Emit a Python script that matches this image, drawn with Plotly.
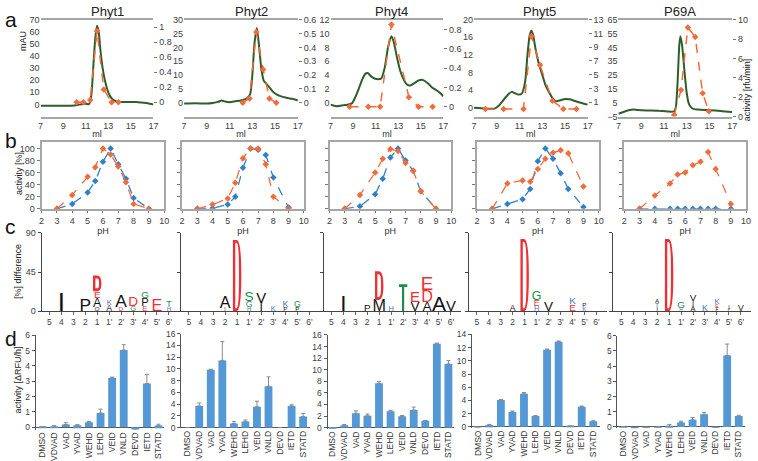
import plotly.graph_objects as go

W, H = 758, 461
FONT = "Arial, Liberation Sans, sans-serif"
LOGO_FONT = "Liberation Sans Narrow, Arial Narrow, Liberation Sans, sans-serif"

panel_names = ["Phyt1", "Phyt2", "Phyt4", "Phyt5", "P69A"]

# ---- a: gel filtration, absorbance (mAU) and activity of the fractions
phyt1_abs_ml = [7, 8, 9, 10, 10.5, 11, 11.3, 11.5, 11.7, 11.85, 12.0, 12.15, 12.3, 12.5, 12.7, 13.0, 13.3, 13.6, 14.0, 14.5, 15.0, 15.5, 16.0, 16.5, 17]
phyt1_abs_mau = [-1, -1, -1, -0.8, 0, 0.5, 0.3, 8, 35, 55, 65, 60, 45, 30, 20, 10, 5, 3, 2, 2, 2, 2, 1.5, 1, 0]
phyt1_frac_ml = [10.2, 10.8, 11.4, 12.0, 12.6, 13.3, 13.9]
phyt1_frac_act = [0, 0, 0.03, 0.95, 0.17, 0, 0]

phyt2_abs_ml = [7, 8, 9, 9.5, 10, 10.3, 10.6, 11, 11.5, 12, 12.5, 12.8, 13.0, 13.2, 13.4, 13.6, 13.8, 14.0, 14.2, 14.5, 14.8, 15.2, 15.6, 16, 16.5, 17]
phyt2_abs_mau = [-0.3, -0.2, -0.3, -0.1, 0.3, 0.8, 0.4, 0.2, 0.5, 0.8, 1.5, 3, 10, 22, 27, 20, 12, 8, 7, 5.5, 4, 2.8, 2.2, 1.8, 1.4, 0.8]
phyt2_frac_ml = [12.15, 12.75, 13.35, 13.95, 14.5, 15.1]
phyt2_frac_act = [0, 0.03, 0.51, 0.24, 0.03, 0]

phyt4_abs_ml = [7, 7.5, 8, 8.5, 8.9, 9.2, 9.5, 9.8, 10.1, 10.3, 10.6, 10.9, 11.2, 11.5, 11.8, 12.1, 12.4, 12.6, 12.9, 13.2, 13.5, 13.8, 14.1, 14.4, 14.8, 15.1, 15.4, 15.7, 16.0, 16.4, 16.8, 17]
phyt4_abs_mau = [-0.3, -0.5, -0.4, -0.3, -0.1, 0.8, 2, 3.3, 4.2, 4.3, 3.8, 3.5, 3.4, 3.5, 5, 8, 9.6, 8.8, 6.5, 4.5, 3.3, 2.6, 2.5, 2.8, 3.2, 3.3, 3.1, 2.7, 2.2, 1.8, 1.3, 0.9]
phyt4_frac_ml = [8.7, 10.35, 11.4, 12.4, 13.95, 14.8, 16.05]
phyt4_frac_act = [0, 0, 0, 0.85, 0.1, 0, 0]

phyt5_abs_ml = [7, 8, 8.8, 9.2, 9.6, 10.0, 10.3, 10.6, 10.9, 11.2, 11.5, 11.7, 11.9, 12.05, 12.2, 12.4, 12.7, 13.0, 13.3, 13.6, 13.9, 14.2, 14.6, 15.0, 15.4, 15.8, 16.3, 17]
phyt5_abs_mau = [0, -0.2, -0.2, 0.5, 1.8, 3, 3.6, 3.3, 3, 3.2, 6, 12, 16.5, 17.5, 16.5, 13.5, 10, 7.5, 5, 3.5, 2.2, 1.5, 1.7, 2, 1.9, 1.6, 1.2, 0.7]
phyt5_frac_ml = [8.0, 9.6, 11.35, 12.05, 12.8, 13.9, 14.85, 16.0]
phyt5_frac_act = [0, 0, 0, 10.6, 6.4, 1.2, 0, 0]

p69a_abs_ml = [7, 7.5, 8.0, 8.3, 8.7, 9.5, 10.5, 11.3, 11.9, 12.05, 12.2, 12.35, 12.45, 12.6, 12.8, 13.0, 13.2, 13.5, 14, 15, 16, 17]
p69a_abs_mau = [-3, -1.5, -0.3, 0, -0.3, -0.6, -0.8, -1.4, -1.3, 2, 20, 47, 53, 46, 28, 12, 4, 0.8, 0, -0.4, -1, -1.8]
p69a_frac_ml = [11.9, 12.5, 13.1, 13.75, 14.4, 14.95]
p69a_frac_act = [0.15, 2.75, 9.2, 8.2, 2.4, 0.55]

a_left_ticks = [list(range(0, 71, 10)), list(range(0, 31, 5)), list(range(0, 13, 2)),
                list(range(0, 21, 4)), list(range(-5, 66, 10))]
a_right_ticks = [[0, 0.2, 0.4, 0.6, 0.8, 1], [0, 0.1, 0.2, 0.3, 0.4, 0.5, 0.6],
                 [0, 0.2, 0.4, 0.6, 0.8], [1, 3, 5, 7, 9, 11, 13], [0, 2, 4, 6, 8, 10]]

# ---- b: pH profiles
ph_values = [3, 4, 5, 5.5, 6, 6.5, 7, 7.5, 8, 9]
phyt1_ph_orange = [0, 23, 53, 69, 100, 90, 70, 44, 8, 0]
phyt1_ph_blue = [0, 8, 27, 46, 78, 100, 74, 50, 18, 0]
phyt2_ph_orange = [0, 7, 17, 43, 84, 100, 100, 74, 20, 0]
phyt2_ph_blue = [0, 1, 7, 20, 68, 100, 98, 89, 52, 2]
phyt4_ph_orange = [0, 23, 60, 83, 99, 96, 76, 63, 29, 0]
phyt4_ph_blue = [0, 4, 24, 50, 85, 100, 80, 63, 29, 0]
phyt5_ph_orange = [0, 42, 47, 45, 66, 83, 93, 97, 92, 37]
phyt5_ph_blue = [0, 8, 16, 33, 79, 100, 83, 59, 33, 3]
p69a_ph_orange = [0, 22, 42, 57, 60, 72, 78, 94, 66, 8]
p69a_ph_blue = [0, 0, 0, 0, 0, 0, 0, 0, 0, 0]

# ---- c: sequence logos (position, letter, height in %), stacked bottom to top
logo_positions = ["5", "4", "3", "2", "1", "1'", "2'", "3'", "4'", "5'", "6'"]
logo_phyt1 = [("4", "I", 21), ("2", "P", 14),
              ("1", "Q", 5), ("1", "A", 10), ("1", "E", 8), ("1", "D", 18),
              ("1'", "A", 7), ("1'", "K", 6), ("2'", "D", 5), ("2'", "A", 14),
              ("3'", "G", 6), ("3'", "D", 11), ("4'", "E", 6), ("4'", "P", 9), ("4'", "G", 8),
              ("5'", "E", 13), ("6'", "H", 5), ("6'", "T", 7)]
logo_phyt2 = [("2", "I", 4), ("2", "A", 13), ("1", "D", 82),
              ("1'", "H", 5), ("1'", "G", 7), ("1'", "S", 11),
              ("2'", "I", 10), ("2'", "V", 12), ("3'", "K", 6),
              ("4'", "P", 5), ("4'", "K", 7), ("5'", "P", 5), ("5'", "G", 7)]
logo_phyt4 = [("4", "I", 18), ("2", "P", 8), ("1", "M", 13), ("1", "D", 33),
              ("1'", "H", 6), ("2'", "T", 31), ("3'", "V", 11), ("3'", "E", 12),
              ("4'", "A", 11), ("4'", "D", 13), ("4'", "E", 15), ("5'", "A", 17), ("6'", "V", 12)]
logo_phyt5 = [("2", "A", 7), ("1", "D", 83), ("1'", "H", 6), ("1'", "E", 7), ("1'", "G", 10),
              ("2'", "V", 11), ("4'", "E", 8), ("4'", "K", 8), ("5'", "K", 5), ("5'", "P", 5)]
logo_p69a = [("2", "I", 5), ("2", "T", 5), ("2", "A", 5), ("1", "D", 83),
             ("1'", "H", 4), ("1'", "G", 8), ("2'", "A", 6), ("2'", "I", 6), ("2'", "V", 8),
             ("3'", "K", 7), ("4'", "F", 4), ("4'", "E", 4), ("4'", "K", 6),
             ("5'", "P", 3), ("5'", "I", 4), ("6'", "V", 7)]

# ---- d: substrate activity
substrates = ["DMSO", "VDVAD", "VAD", "YVAD", "WEHD", "LEHD", "VEID", "VNLD", "DEVD", "IETD", "STATD"]
phyt1_act = [0.02, 0.03, 0.18, 0.13, 0.32, 0.93, 3.22, 5.03, -0.2, 2.85, 0.12]
phyt1_err = [0.02, 0.08, 0.12, 0.04, 0.06, 0.25, 0.05, 0.35, 0.05, 0.6, 0.08]
phyt2_act = [0, 3.7, 9.85, 11.45, 0.7, 1.05, 3.55, 7.05, 0, 3.7, 1.9]
phyt2_err = [0, 0.5, 0.1, 3.2, 0.35, 0.25, 0.95, 1.6, 0, 0.2, 0.5]
phyt4_act = [-0.3, 0.4, 2.5, 2.05, 7.65, 2.85, 1.95, 3.05, 1.18, 14.5, 11.0]
phyt4_err = [0.1, 0.15, 0.4, 0.3, 0.35, 0.15, 0.15, 0.5, 0.05, 0.1, 0.6]
phyt5_act = [-0.05, 0.27, 4.08, 2.25, 5.0, 1.63, 11.7, 12.9, 0.1, 3.05, 0.84]
phyt5_err = [0.02, 0.1, 0.05, 0.15, 0.2, 0.08, 0.1, 0.12, 0.05, 0.1, 0.08]
p69a_act = [0.02, -0.06, -0.02, 0.01, 0.05, 0.3, 0.48, 0.83, -0.02, 4.7, 0.72]
p69a_err = [0.01, 0.02, 0.01, 0.01, 0.12, 0.08, 0.14, 0.12, 0.01, 0.75, 0.05]

ORANGE = "#f26b3a"
BLUE = "#2f80c8"
GREEN = "#2f5e2a"
BAR = "#5499d6"
RED_L, GREEN_L, BLUE_L = "#ee2f33", "#1a8f47", "#4b70c8"
letter_color = {"D": RED_L, "E": RED_L, "G": GREEN_L, "S": GREEN_L, "T": GREEN_L, "K": BLUE_L, "H": BLUE_L}

tick_font = dict(family=FONT, size=9, color="#404040")

fig = go.Figure()
layout = {}
shapes = []
annotations = []
counter = {"x": 0, "y": 0}


def new_axis(kind):
    counter[kind] += 1
    k = counter[kind]
    suffix = "" if k == 1 else str(k)
    return kind + suffix, kind + "axis" + suffix


def xd(a, b):
    return [a / W, b / W]


def yd(top, bot):
    return [1 - bot / H, 1 - top / H]


def label(text, x, y, size=9, angle=0):
    annotations.append(dict(text=text, x=x / W, y=1 - y / H, xref="paper", yref="paper",
                            xanchor="center", yanchor="middle", showarrow=False, textangle=angle,
                            font=dict(family=FONT, size=size, color="#222")))


# ---------------- row a
a_x = [(38, 152), (183, 298), (331, 445), (476, 591), (622, 737)]
a_y = (15, 114)
a_left_range = [[-10, 70], [-5, 30], [-2, 12], [-2, 20], [-5, 65]]
a_right_range = [[-0.19, 1.1], [-0.1, 0.6], [-0.1, 0.9], [-1.1, 13], [0, 10]]
abs_ml = [phyt1_abs_ml, phyt2_abs_ml, phyt4_abs_ml, phyt5_abs_ml, p69a_abs_ml]
abs_mau = [phyt1_abs_mau, phyt2_abs_mau, phyt4_abs_mau, phyt5_abs_mau, p69a_abs_mau]
frac_ml = [phyt1_frac_ml, phyt2_frac_ml, phyt4_frac_ml, phyt5_frac_ml, p69a_frac_ml]
frac_act = [phyt1_frac_act, phyt2_frac_act, phyt4_frac_act, phyt5_frac_act, p69a_frac_act]

for i in range(5):
    xr, xn = new_axis("x")
    yr, yn = new_axis("y")
    y2r, y2n = new_axis("y")
    layout[xn] = dict(domain=xd(*a_x[i]), range=[7, 17], tickvals=[7, 9, 11, 13, 15, 17], anchor=yr,
                      showline=True, mirror=True, linecolor="#a6a6a6", linewidth=2, showgrid=False,
                      zeroline=False, ticks="", tickfont=tick_font,
                      title=dict(text="ml", font=dict(family=FONT, size=9, color="#333"), standoff=0))
    layout[yn] = dict(domain=yd(*a_y), range=a_left_range[i], tickvals=a_left_ticks[i], anchor=xr,
                      showgrid=False, zeroline=False, showline=False, ticks="", tickfont=tick_font)
    layout[y2n] = dict(domain=yd(*a_y), range=a_right_range[i], tickvals=a_right_ticks[i], anchor=xr,
                       overlaying=yr, side="right", showgrid=False, zeroline=False, showline=False,
                       ticks="outside", ticklen=3, tickcolor="#777", tickfont=tick_font)
    fig.add_trace(go.Scatter(x=frac_ml[i], y=frac_act[i], xaxis=xr, yaxis=y2r, mode="lines+markers",
                             line=dict(color=ORANGE, width=1.5, dash="dash"),
                             marker=dict(symbol="diamond", size=5, color=ORANGE), showlegend=False))
    fig.add_trace(go.Scatter(x=abs_ml[i], y=abs_mau[i], xaxis=xr, yaxis=yr, mode="lines",
                             line=dict(color=GREEN, width=2, shape="spline", smoothing=0.6),
                             showlegend=False))

title_x = [106, 251, 393, 542, 684]
for i, name in enumerate(panel_names):
    label(name, title_x[i], 7, size=13)
label("mAU", 20, 37, angle=-90)
label("activity [rfu/min]", 752, 87, angle=-90)

# ---------------- row b
b_x = [(39, 163), (181, 304), (330, 453), (479, 602), (628, 751)]
b_y = (140.5, 208.3)
ph_orange = [phyt1_ph_orange, phyt2_ph_orange, phyt4_ph_orange, phyt5_ph_orange, p69a_ph_orange]
ph_blue = [phyt1_ph_blue, phyt2_ph_blue, phyt4_ph_blue, phyt5_ph_blue, p69a_ph_blue]
for i in range(5):
    xr, xn = new_axis("x")
    yr, yn = new_axis("y")
    layout[xn] = dict(domain=xd(*b_x[i]), range=[2, 10], dtick=1, anchor=yr, showline=True, mirror=True,
                      linecolor="#a6a6a6", linewidth=2, showgrid=False, zeroline=False, ticks="outside",
                      ticklen=2, tickcolor="#777", tickfont=tick_font,
                      title=dict(text="pH", font=dict(family=FONT, size=9, color="#333"), standoff=0))
    layout[yn] = dict(domain=yd(*b_y), range=[0, 110], tickvals=[0, 20, 40, 60, 80, 100], anchor=xr,
                      showline=True, mirror=True, linecolor="#a6a6a6", linewidth=2, showgrid=False,
                      zeroline=False, ticks="outside", ticklen=3, tickcolor="#777",
                      showticklabels=(i == 0), tickfont=tick_font)
    fig.add_trace(go.Scatter(x=ph_values, y=ph_blue[i], xaxis=xr, yaxis=yr, mode="lines+markers",
                             line=dict(color=BLUE, width=1.3, dash="dash"),
                             marker=dict(symbol="diamond", size=5, color=BLUE), showlegend=False))
    fig.add_trace(go.Scatter(x=ph_values, y=ph_orange[i], xaxis=xr, yaxis=yr, mode="lines+markers",
                             line=dict(color=ORANGE, width=1.3, dash="dash"),
                             marker=dict(symbol="diamond", size=5, color=ORANGE), showlegend=False))
label("activity [%]", 16, 172, angle=-90)


# ---------------- row c
def d_path(x0, w, y0, h, fx, fy):
    X = lambda u: x0 + u * w
    Y = lambda v: y0 + v * h
    outer = (f"M{X(0)},{Y(0)} L{X(0)},{Y(1)} L{X(0.42)},{Y(1)} "
             f"C{X(0.86)},{Y(1)} {X(1)},{Y(0.8)} {X(1)},{Y(0.5)} "
             f"C{X(1)},{Y(0.2)} {X(0.86)},{Y(0)} {X(0.42)},{Y(0)} Z")
    inner = (f" M{X(fx)},{Y(fy)} L{X(0.42)},{Y(fy)} "
             f"C{X(0.7)},{Y(fy)} {X(1 - fx)},{Y(0.25)} {X(1 - fx)},{Y(0.5)} "
             f"C{X(1 - fx)},{Y(0.75)} {X(0.7)},{Y(1 - fy)} {X(0.42)},{Y(1 - fy)} "
             f"L{X(fx)},{Y(1 - fy)} Z")
    return outer + inner


def t_path(x0, w, y0, h, stem, bar):
    a, b = x0 + w * (0.5 - stem / 2), x0 + w * (0.5 + stem / 2)
    top, yb = y0 + h, y0 + h - bar
    return (f"M{x0},{top} L{x0 + w},{top} L{x0 + w},{yb} L{b},{yb} L{b},{y0} "
            f"L{a},{y0} L{a},{yb} L{x0},{yb} Z")


c_x = [(39, 178), (180, 320), (324, 463), (471, 610), (617, 756)]
c_y = (233, 313)
c_range = [-0.65, 10.85]
logos = [logo_phyt1, logo_phyt2, logo_phyt4, logo_phyt5, logo_p69a]
for i in range(5):
    xr, xn = new_axis("x")
    yr, yn = new_axis("y")
    layout[xn] = dict(domain=xd(*c_x[i]), range=c_range, tickvals=list(range(11)), ticktext=logo_positions,
                      anchor=yr, showline=True, linecolor="#444", linewidth=1, showgrid=False, zeroline=False,
                      ticks="outside", ticklen=3, tickcolor="#666", tickfont=dict(family=FONT, size=8.5, color="#404040"))
    layout[yn] = dict(domain=yd(*c_y), range=[0, 90], tickvals=[0, 45, 90], anchor=xr, showline=True,
                      linecolor="#444", linewidth=1, showgrid=False, zeroline=False, ticks="outside",
                      ticklen=3, tickcolor="#444", showticklabels=(i == 0), tickfont=tick_font)
    ppp = (c_y[1] - c_y[0]) / 90.0
    ppos = (c_x[i][1] - c_x[i][0]) / (c_range[1] - c_range[0])
    stacks = {}
    tx, ty, tt, ts, tc = [], [], [], [], []
    for pos, letter, h in logos[i]:
        k = logo_positions.index(pos)
        b = stacks.get(k, 0)
        stacks[k] = b + h
        col = letter_color.get(letter, "#111111")
        if letter == "D" and h >= 15:
            w = 8.5 / ppos
            path = d_path(k - w / 2, w, b, h, 2.4 / 8.5, 3.0 / (h * ppp))
            shapes.append(dict(type="path", path=path, xref=xr, yref=yr, fillcolor=col,
                               line=dict(width=0), layer="above"))
        elif letter == "T" and h >= 15:
            w = 8.5 / ppos
            path = t_path(k - w / 2, w, b, h, 2.2 / 8.5, 2.8 / ppp)
            shapes.append(dict(type="path", path=path, xref=xr, yref=yr, fillcolor=col,
                               line=dict(width=0), layer="above"))
        else:
            fs = h * ppp / 0.716
            tx.append(k)
            ty.append(b + 0.25 * fs / ppp)
            tt.append(letter)
            ts.append(fs)
            tc.append(col)
    fig.add_trace(go.Scatter(x=tx, y=ty, text=tt, mode="text", xaxis=xr, yaxis=yr,
                             textposition="middle center",
                             textfont=dict(family=LOGO_FONT, size=ts, color=tc), showlegend=False))
label("[%] difference", 15, 272, angle=-90)

# ---------------- row d
d_x = [(33, 163), (180, 310), (328, 456), (474, 603), (621, 750)]
d_xrange = [[-0.6, 10.5], [-0.57, 10.57], [-0.45, 10.5], [-0.5, 10.55], [-0.5, 10.55]]
d_y = [(337.5, 434), (336, 432.6), (337.3, 433.2), (336.8, 432.2), (338, 432.6)]
d_yrange = [[-0.15, 6], [-0.1, 16], [-0.2, 16], [-0.15, 14], [-0.08, 6]]
d_dtick = [1, 2, 2, 2, 1]
acts = [phyt1_act, phyt2_act, phyt4_act, phyt5_act, p69a_act]
errs = [phyt1_err, phyt2_err, phyt4_err, phyt5_err, p69a_err]
for i in range(5):
    xr, xn = new_axis("x")
    yr, yn = new_axis("y")
    layout[xn] = dict(domain=xd(*d_x[i]), range=d_xrange[i], anchor=yr, type="category",
                      showline=False, showgrid=False, zeroline=False, ticks="", tickangle=-90,
                      tickfont=dict(family=FONT, size=8.5, color="#333"))
    layout[yn] = dict(domain=yd(*d_y[i]), range=d_yrange[i], dtick=d_dtick[i], tick0=0, anchor=xr,
                      showline=True, linecolor="#555", linewidth=1, showgrid=False, zeroline=True,
                      zerolinecolor="#555", zerolinewidth=1, ticks="outside", ticklen=3, tickcolor="#555",
                      tickfont=dict(family=FONT, size=8.5, color="#404040"))
    fig.add_trace(go.Bar(x=substrates, y=acts[i], xaxis=xr, yaxis=yr, marker=dict(color=BAR, line=dict(width=0)),
                         error_y=dict(type="data", array=errs[i], symmetric=False,
                                      arrayminus=[0] * len(errs[i]), color="#8a8a8a", thickness=1, width=2),
                         width=0.68, showlegend=False, cliponaxis=False))
label("activity [ΔRFU/h]", 15, 383, angle=-90)

# panel letters
for letter, y in zip("abcd", [15, 139, 226, 341]):
    annotations.append(dict(text=letter, x=0, y=1 - y / H, xref="paper", yref="paper", xanchor="left",
                            yanchor="middle", showarrow=False, font=dict(family=FONT, size=21, color="#111")))

fig.update_layout(width=W, height=H, autosize=False, margin=dict(l=0, r=0, t=0, b=0),
                  paper_bgcolor="white", plot_bgcolor="white", showlegend=False,
                  shapes=shapes, annotations=annotations, **layout)
# page body margin would shift the 758x461 figure inside the window
fig.write_html("out.html", config={"displayModeBar": False},
               post_script="document.body.style.margin='0';document.body.style.overflow='hidden';")
